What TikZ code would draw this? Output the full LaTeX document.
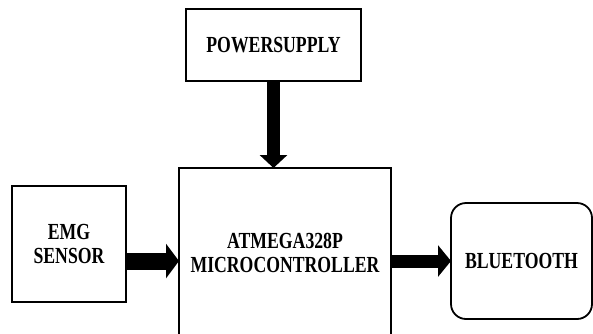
\documentclass[tikz,border=0pt]{standalone}
\usepackage{fontspec}
\setmainfont[FakeStretch=0.77]{Liberation Serif}
\usetikzlibrary{arrows.meta}

\begin{document}
\begin{tikzpicture}[x=1pt, y=-1pt,
    block/.style={draw, line width=1.8pt, inner sep=0pt, outer sep=0pt, align=center,
      font=\fontsize{23}{23.5}\selectfont\bfseries},
    flow/.style n args={2}{line width=#1, -{Triangle[width=#2, length=13pt]}}]
    \clip (0, 0) rectangle (593, 333);

    % Nodes
    \node[block, minimum width=175pt, minimum height=72pt]  at (273.5, 45)  (power) {POWERSUPPLY};
    \node[block, minimum width=212pt, minimum height=170pt] at (285, 253)   (mcu)   {ATMEGA328P\\MICROCONTROLLER};
    \node[block, minimum width=114pt, minimum height=116pt] at (69, 244)    (emg)   {EMG\\SENSOR};
    \node[block, minimum width=141pt, minimum height=116pt, rounded corners=15pt] at (521.5, 261) (bt) {BLUETOOTH};

    % Arrows
    \draw[flow={13pt}{27pt}] (power.south) -- (power.south |- mcu.north);
    \draw[flow={17pt}{34pt}] (emg.east |- bt.west) -- (mcu.west |- bt.west);
    \draw[flow={13pt}{31pt}] (mcu.east |- bt.west) -- (bt.west);

  \end{tikzpicture}
\end{document}
